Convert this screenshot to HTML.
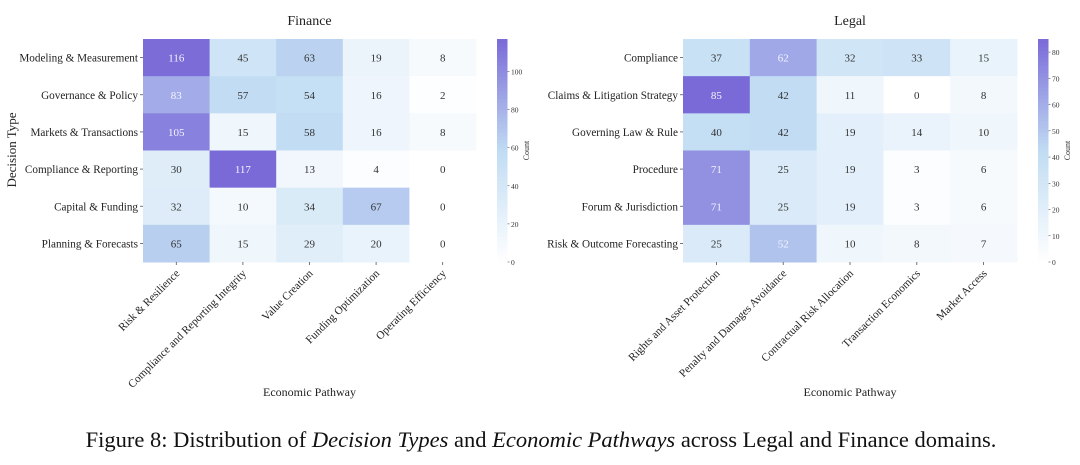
<!DOCTYPE html>
<html><head><meta charset="utf-8">
<style>
body{margin:0;background:#fff;}
svg{display:block;font-family:"Liberation Serif",serif;}
</style></head>
<body>
<svg id="chart" width="1080" height="465" viewBox="0 0 1080 465">
<text x="541" y="447" text-anchor="middle" font-size="22.5" fill="#111">Figure 8: Distribution of <tspan font-style="italic">Decision Types</tspan> and <tspan font-style="italic">Economic Pathways</tspan> across Legal and Finance domains.</text>
</svg>
<script>
const finRows = ["Modeling & Measurement","Governance & Policy","Markets & Transactions","Compliance & Reporting","Capital & Funding","Planning & Forecasts"];
const finCols = ["Risk & Resilience","Compliance and Reporting Integrity","Value Creation","Funding Optimization","Operating Efficiency"];
const finVals = [[116,45,63,19,8],[83,57,54,16,2],[105,15,58,16,8],[30,117,13,4,0],[32,10,34,67,0],[65,15,29,20,0]];
const finTicks = [0,20,40,60,80,100];
const legRows = ["Compliance","Claims & Litigation Strategy","Governing Law & Rule","Procedure","Forum & Jurisdiction","Risk & Outcome Forecasting"];
const legCols = ["Rights and Asset Protection","Penalty and Damages Avoidance","Contractual Risk Allocation","Transaction Economics","Market Access"];
const legVals = [[37,62,32,33,15],[85,42,11,0,8],[40,42,19,14,10],[71,25,19,3,6],[71,25,19,3,6],[25,52,10,8,7]];
const legTicks = [0,10,20,30,40,50,60,70,80];

const NS="http://www.w3.org/2000/svg";
const svg=document.getElementById('chart');
function mk(tag,attrs,parent){const e=document.createElementNS(NS,tag);for(const k in attrs)e.setAttribute(k,attrs[k]);(parent||svg).appendChild(e);return e;}
const stops=[[0,[255,255,255]],[0.5,[192,220,243]],[1,[122,106,216]]];
function color(t){t=Math.max(0,Math.min(1,t));for(let i=1;i<stops.length;i++){if(t<=stops[i][0]){const a=stops[i-1],b=stops[i];const f=(t-a[0])/(b[0]-a[0]);const c=a[1].map((v,j)=>Math.round(v+(b[1][j]-v)*f));return `rgb(${c})`;}}return 'rgb(122,106,216)';}

function heatmap(o){
  const {rows,cols,vals,ticks,x0,x1,y0,y1,cbx,vmax,title,name,showY}=o;
  const cw=(x1-x0)/cols.length, ch=(y1-y0)/rows.length;
  const g=mk('g',{});
  
  
  const t=mk('text',{x:(x0+x1)/2,y:y0-14,'text-anchor':'middle','font-size':14,fill:'#222'},g);t.textContent=title;
  
  rows.forEach((r,i)=>cols.forEach((c,j)=>{
    const v=vals[i][j];const tt=v/vmax;
    const rc=mk('rect',{x:x0+j*cw,y:y0+i*ch,width:cw+0.5,height:ch+0.5,fill:color(tt)},g);
    
    const tx=mk('text',{x:x0+(j+0.5)*cw,y:y0+(i+0.5)*ch+4,'text-anchor':'middle','font-size':11,fill:tt>0.6?'#f4f4ff':'#333'},g);tx.textContent=v;
    
  }));
  rows.forEach((r,i)=>{
    const y=y0+(i+0.5)*ch;
    mk('line',{x1:x0-3,x2:x0,y1:y,y2:y,stroke:'#555','stroke-width':0.8},g);
    const l=mk('text',{x:x0-5,y:y+4,'text-anchor':'end','font-size':11.2,fill:'#222'},g);l.textContent=r;
    
  });
  cols.forEach((c,j)=>{
    const x=x0+(j+0.5)*cw;
    mk('line',{x1:x,x2:x,y1:y1,y2:y1+3,stroke:'#555','stroke-width':0.8},g);
    const l=mk('text',{x:x+4,y:y1+12,'text-anchor':'end','font-size':11.2,fill:'#222',transform:`rotate(-45 ${x+4} ${y1+12})`},g);l.textContent=c;
    
  });
  const xt=mk('text',{x:(x0+x1)/2,y:396,'text-anchor':'middle','font-size':12,fill:'#222'},g);xt.textContent='Economic Pathway';
  
  if(showY){const yt=mk('text',{x:16,y:150,'text-anchor':'middle','font-size':13,fill:'#222',transform:'rotate(-90 16 150)'},g);yt.textContent='Decision Type';
    }
  const cb=mk('g',{},g);
  
  const N=60;const h=(y1-y0)/N;
  for(let k=0;k<N;k++){mk('rect',{x:cbx,y:y1-(k+1)*h,width:10.5,height:h+0.6,fill:color((k+0.5)/N)},cb);}
  ticks.forEach(tv=>{const y=y1-(tv/vmax)*(y1-y0);
    mk('line',{x1:cbx+10.5,x2:cbx+12.5,y1:y,y2:y,stroke:'#555','stroke-width':0.6},cb);
    const l=mk('text',{x:cbx+14,y:y+3,'font-size':7.5,fill:'#333'},cb);l.textContent=tv;
    });
  const cl=mk('text',{x:cbx+32,y:(y0+y1)/2,'text-anchor':'middle','font-size':8,fill:'#333',transform:`rotate(-90 ${cbx+32} ${(y0+y1)/2})`},cb);cl.textContent='Count';
  
}
heatmap({rows:finRows,cols:finCols,vals:finVals,ticks:finTicks,x0:143,x1:476,y0:39,y1:262,cbx:497,vmax:117,title:'Finance',name:'finance',showY:true});
heatmap({rows:legRows,cols:legCols,vals:legVals,ticks:legTicks,x0:683,x1:1017,y0:39,y1:262,cbx:1038,vmax:85,title:'Legal',name:'legal',showY:false});
</script>
</body></html>
